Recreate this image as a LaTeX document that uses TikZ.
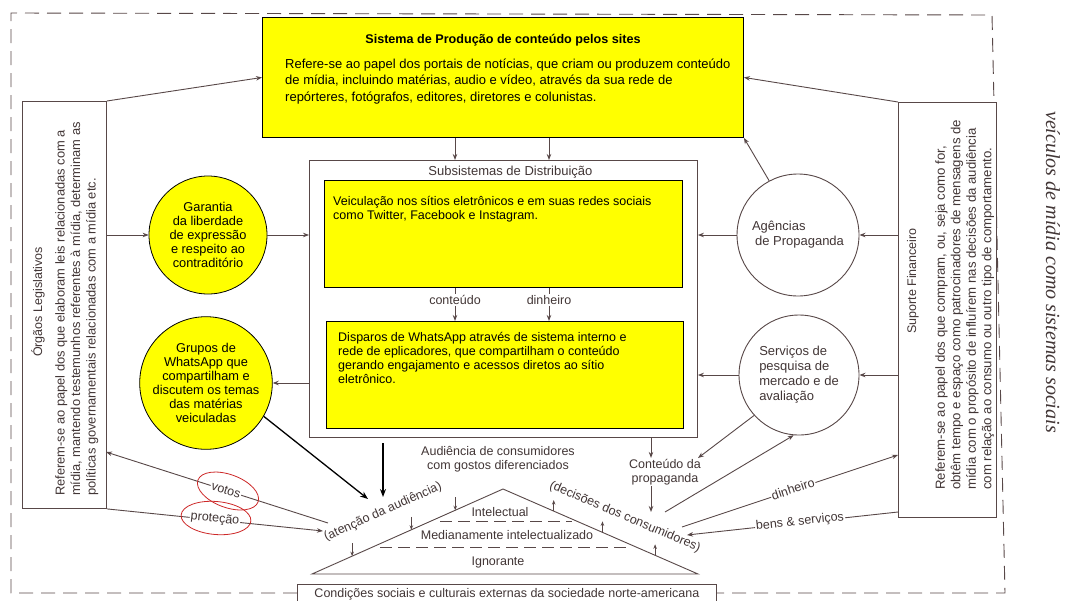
\documentclass[tikz,border=0pt]{standalone}
\usepackage{fontspec}
\setmainfont{Liberation Sans}
\newfontfamily\serifit{Liberation Serif}
\usetikzlibrary{arrows.meta,shapes.geometric,calc}
\definecolor{tinta}{RGB}{88,72,72}
\definecolor{texto}{RGB}{66,54,54}
\definecolor{amarelo}{RGB}{255,255,0}
\definecolor{vermelho}{RGB}{205,40,40}
\tikzset{
 seta/.style={draw=tinta,line width=0.9pt,-{Stealth[length=6pt,width=4.5pt]}},
 setinha/.style={draw=tinta,line width=0.8pt,-{Stealth[length=4.5pt,width=3.5pt]}},
 setapreta/.style={draw=black,line width=1.3pt,-{Stealth[length=8pt,width=6pt]}},
 caixa/.style={draw=tinta,line width=0.9pt,fill=white,anchor=north west},
 amarela/.style={draw=black,line width=0.9pt,fill=amarelo,anchor=north west},
 bola/.style={circle,draw=black,line width=0.8pt,fill=amarelo,align=center,inner sep=0pt,font=\fontsize{12.8}{14}\selectfont},
 roda/.style={circle,draw=tinta,line width=0.9pt,fill=white,align=left,inner sep=0pt,text=texto,font=\fontsize{13}{15}\selectfont},
 rotulo/.style={text=texto,font=\fontsize{12.5}{14}\selectfont,inner sep=1pt},
 texto amarelo/.style={anchor=north west,align=left,inner sep=0pt,font=\fontsize{12.5}{14}\selectfont},
 elipse/.style={ellipse,draw=vermelho,line width=0.8pt,minimum width=64pt,minimum height=33pt},
}
\begin{document}
\begin{tikzpicture}[x=1pt,y=-1pt]
\useasboundingbox (0,0) rectangle (1067,600);
\clip (0,0) rectangle (1067,600);\fill[white] (0,0) rectangle (1067,600);
\draw[tinta,line width=0.9pt,dash pattern=on 14pt off 8pt] (297,593) -- (11,593) -- (11,13) -- (992,15) -- (1005,593) -- (716,593);
\node[caixa,minimum width=419pt,minimum height=20pt,text=texto,font=\fontsize{12.5}{14}\selectfont] (condicoes) at (297,584) {Condições sociais e culturais externas da sociedade norte-americana};

\node[amarela,minimum width=481pt,minimum height=120pt] (sistema) at (262,17) {};
\node[font=\bfseries\fontsize{12.6}{14}\selectfont] (sistemaT) at ([yshift=-23pt]sistema.north) {Sistema de Produção de conteúdo pelos sites};
\node[texto amarelo,font=\fontsize{13}{16.2}\selectfont] (sistemaC) at ([xshift=23pt,yshift=-42pt]sistema.north west) {Refere-se ao papel dos portais de notícias, que criam ou produzem conteúdo\\de mídia, incluindo matérias, audio e vídeo, através da sua rede de\\repórteres, fotógrafos, editores, diretores e colunistas.};

\node[caixa,minimum width=388pt,minimum height=277pt] (dist) at (309,160) {};
\node[rotulo,font=\fontsize{13}{14}\selectfont] (distT) at ([xshift=7pt,yshift=-12pt]dist.north) {Subsistemas de Distribuição};
\node[amarela,minimum width=358pt,minimum height=107pt] (veic) at (324,180) {};
\node[texto amarelo] (veicT) at ([xshift=9pt,yshift=-16pt]veic.north west) {Veiculação nos sítios eletrônicos e em suas redes sociais\\como Twitter, Facebook e Instagram.};
\node[amarela,minimum width=357pt,minimum height=107pt] (disp) at (326,321) {};
\node[texto amarelo] (dispT) at ([xshift=12pt,yshift=-11pt]disp.north west) {Disparos de WhatsApp através de sistema interno e\\rede de eplicadores, que compartilham o conteúdo\\gerando engajamento e acessos diretos ao sítio\\eletrônico.};
\node[rotulo] (conteudo) at (455,300) {conteúdo};\node[rotulo] (dinheiroA) at (549,300) {dinheiro};
\foreach \r in {conteudo,dinheiroA}{
\draw[tinta,line width=0.9pt] (veic.south -| \r) -- (\r.north);\draw[seta] (\r.south) -- (disp.north -| \r);
\draw[seta] (sistema.south -| \r) -- (dist.north -| \r);}

\node[bola,minimum size=118pt] (garantia) at (208,235) {Garantia\\da liberdade\\de expressão\\e respeito ao\\contraditório};
\node[bola,minimum size=117pt] (grupos) at (206,383) {Grupos de\\WhatsApp que\\compartilham e\\discutem os temas\\das matérias\\veiculadas};
\node[roda,minimum size=122pt] (agencias) at (798,235) {Agências\\\hspace{3pt}de Propaganda};
\node[roda,minimum size=120pt] (servicos) at (799,375) {Serviços de\\pesquisa de\\mercado e de\\avaliação};

\node[caixa,minimum width=84pt,minimum height=407pt] (orgaos) at (22,101) {};
\node[rotulo,rotate=90] (orgaosT) at (38,302) {Órgãos Legislativos};
\node[rotulo,rotate=90,anchor=north west,align=left,font=\fontsize{12.9}{15.5}\selectfont,inner sep=0pt] (orgaosC) at (55,496) {Referem-se ao papel dos que elaboram leis relacionadas com a\\mídia, mantendo testemunhos referentes à mídia, determinam as\\políticas governamentais relacionadas com a mídia etc.};
\node[caixa,minimum width=98pt,minimum height=415pt] (suporte) at (898,102) {};
\node[rotulo,rotate=90] (suporteT) at (913,281) {Suporte Financeiro};
\node[rotulo,rotate=90,anchor=north west,align=left,font=\fontsize{13.2}{15.5}\selectfont,inner sep=0pt] (suporteC) at (935,490) {Referem-se ao papel dos que compram, ou, seja como for,\\obtêm tempo e espaço como patrocinadores de mensagens de\\mídia com o propósito de influírem nas decisões da audiência\\com relação ao consumo ou outro tipo de comportamento.};
\node[rotate=-90,text=texto,font=\serifit\itshape\fontsize{20}{22}\selectfont] (titulo) at (1053,272) {veículos de mídia como sistemas sociais};

\coordinate (esq) at (312,574);\coordinate (apice) at (503,489);\coordinate (dir) at (698,574);
\draw[tinta,line width=0.9pt] (esq) -- (apice) -- (dir) -- cycle;
\draw[tinta,line width=0.8pt,dash pattern=on 12pt off 6pt] (440,521) -- (572,521) (380,547) -- (630,547);
\node[rotulo] (intelectual) at (500,512) {Intelectual};\node[rotulo] (medianamente) at (507,535) {Medianamente intelectualizado};\node[rotulo] (ignorante) at (498,562) {Ignorante};
\node[rotulo,align=center] (audiencia) at (498,459) {Audiência de consumidores\\com gostos diferenciados};
\node[rotulo,rotate=24] (atencao) at (383,512) {(atenção da audiência)};
\node[rotulo,rotate=-23] (decisoes) at (625,517) {(decisões dos consumidores)};
\foreach \f in {0.21,0.52,0.75} \draw[setinha] ($(esq)!\f!(apice)+(0,-13)$) -- ($(esq)!\f!(apice)$);
\foreach \f in {0.26,0.51,0.78} \draw[setinha] ($(apice)!\f!(dir)$) -- ($(apice)!\f!(dir)+(0,-11)$);

\draw[seta] (orgaos.north east) -- (sistema.west);\draw[seta] (suporte.north west) -- (sistema.east);
\draw[seta] (agencias.118) -- (sistema.south east);
\draw[seta] (garantia.west -| orgaos.east) -- (garantia.west);\draw[seta] (garantia.east) -- (garantia.east -| dist.west);
\draw[seta] (grupos.east -| dist.west) -- (grupos.east);
\draw[seta] (agencias.west) -- (agencias.west -| dist.east);\draw[seta] (agencias.east -| suporte.west) -- (agencias.east);
\draw[seta] (servicos.west) -- (servicos.west -| dist.east);\draw[seta] (servicos.east -| suporte.west) -- (servicos.east);

\node[rotulo,align=center] (propaganda) at (665,472) {Conteúdo da\\propaganda};
\coordinate (pA) at (651,437);\coordinate (pB) at (651,512);
\draw[seta] (pA) -- (pA |- propaganda.north);\draw[seta] (pA |- propaganda.south) -- (pB);
\coordinate (atA) at (368,499);\coordinate (atB) at (383,443);\coordinate (atC) at (383,497);
\draw[setapreta] (grupos.-30) -- (atA);\draw[setapreta] (atB) -- (atC);

\coordinate (vA) at (328,523);\coordinate (vB) at (106,452);\coordinate (protB) at (323,531);
\draw[seta] (vA) -- (vB);\draw[seta] (orgaos.south east) -- (protB);
\node[rotulo,rotate=-18,fill=white] (votos) at (226,490) {votos};
\node[elipse,rotate=-20] (votosE) at (228,491) {};
\node[rotulo,rotate=-6,fill=white] (protecao) at (215,519) {proteção};
\node[elipse,rotate=-5,minimum width=70pt] (protecaoE) at (216,518) {};

\coordinate (cA) at (698,458);\coordinate (cB) at (665,512);
\draw[seta] (servicos.222) -- (cA);\draw[seta] (cB) -- (servicos.265);
\coordinate (dA) at (682,527);\coordinate (dB) at (898,455);\coordinate (bA) at (898,512);\coordinate (bB) at (687,535);
\draw[seta] (dA) -- (dB);\draw[seta] (bA) -- (bB);
\node[rotulo,rotate=18,fill=white] (dinheiroB) at (793,489) {dinheiro};
\node[rotulo,rotate=6,fill=white] (bens) at (800,522) {bens \& serviços};
\end{tikzpicture}
\end{document}
